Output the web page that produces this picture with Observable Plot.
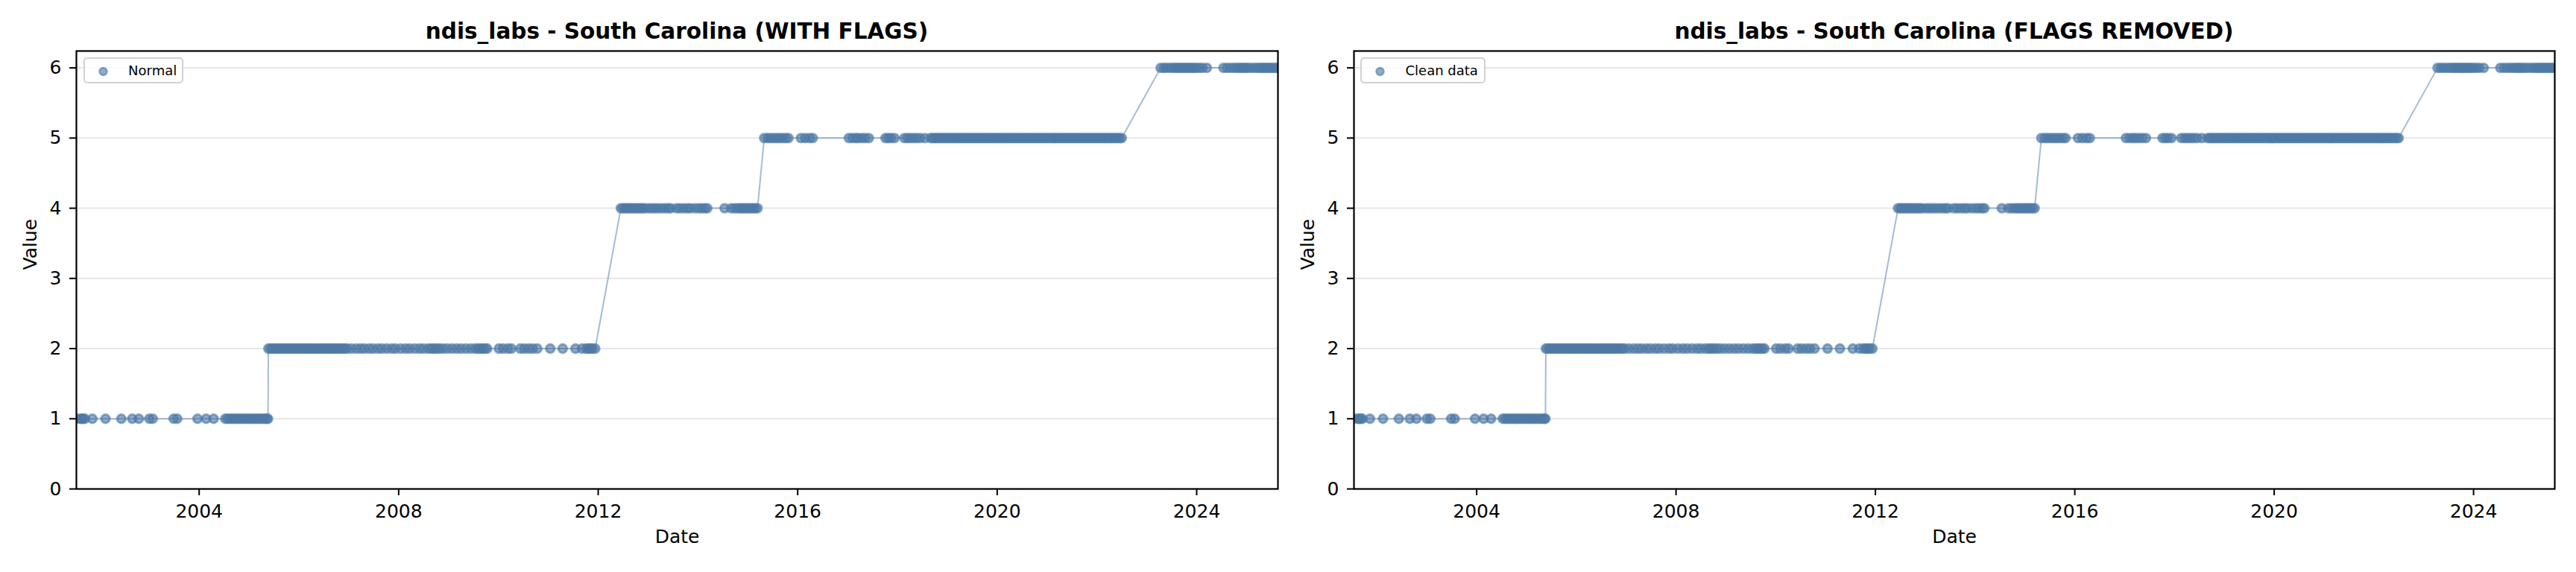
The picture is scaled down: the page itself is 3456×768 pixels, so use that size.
<!DOCTYPE html>
<html>
<head>
<meta charset="utf-8">
<script src="https://cdn.jsdelivr.net/npm/d3@7"></script>
<script src="https://cdn.jsdelivr.net/npm/@observablehq/plot@0.6"></script>
<style>
  html, body { margin: 0; padding: 0; background: #ffffff; }
  body { font-family: "DejaVu Sans", sans-serif; }
  #wrap { position: relative; width: 3456px; height: 768px; display: flex; }
  .panel { position: relative; width: 1728px; height: 768px; }
  .title { position: relative; height: 56px; box-sizing: border-box; padding-top: 27px; }
  .title span { position: absolute; transform: translateX(-50%); white-space: nowrap;
    font-size: 29.5px; line-height: 30px; font-weight: bold; color: #000; top: 27px; }
  .legend { position: absolute; box-sizing: border-box; border: 2px solid #d2d2d2; border-radius: 5px;
    background: rgba(255,255,255,0.8); height: 35px; top: 77px; }
  .legend svg { position: absolute; left: 0; top: 0; }
  .legend span { position: absolute; top: 7px; font-size: 18px; line-height: 18px; color: #000; white-space: nowrap; }
  svg { display: block; }
</style>
</head>
<body>
<div id="wrap">
  <div class="panel" id="p1">
    <div class="title"><span id="t1"></span></div>
    <div id="c1"></div>
    <div class="legend" id="l1"></div>
  </div>
  <div class="panel" id="p2">
    <div class="title"><span id="t2"></span></div>
    <div id="c2"></div>
    <div class="legend" id="l2"></div>
  </div>
</div>
<script>
// ---- Text ----
const titles = ["ndis_labs - South Carolina (WITH FLAGS)", "ndis_labs - South Carolina (FLAGS REMOVED)"];
const legendLabels = ["Normal", "Clean data"];
const xLabel = "Date";
const yLabel = "Value";

// ---- Tick values ----
const yTicks = [0, 1, 2, 3, 4, 5, 6];
const xTickYears = [2004, 2008, 2012, 2016, 2020, 2024];

// ---- Data: step levels and the dates observed at each level ----
const levels = [1, 2, 4, 5, 6];

const level1Dates = [
  "2001-07-16","2001-08-14","2001-08-24","2001-09-04","2001-09-16","2001-11-10",
  "2002-02-14","2002-06-10","2002-08-29","2002-10-16","2003-01-01","2003-01-26",
  "2003-06-28","2003-07-24","2003-12-20","2004-02-21","2004-04-16",
  "2004-07-10","2004-07-27","2004-08-13","2004-08-30","2004-09-16","2004-10-03","2004-10-20",
  "2004-11-06","2004-11-23","2004-12-10","2004-12-27","2005-01-13","2005-01-30","2005-02-16",
  "2005-03-05","2005-03-22","2005-04-08","2005-04-25","2005-05-12","2005-05-19"
];

const level2Dates = [
  "2005-05-22","2005-06-07","2005-06-23","2005-07-09","2005-07-25","2005-08-10","2005-08-26",
  "2005-09-11","2005-09-27","2005-10-13","2005-10-29","2005-11-14","2005-11-30","2005-12-16",
  "2006-01-01","2006-01-17","2006-02-02","2006-02-18","2006-03-06","2006-03-22","2006-04-07",
  "2006-04-23","2006-05-09","2006-05-25","2006-06-10","2006-06-26","2006-07-12","2006-07-28",
  "2006-08-13","2006-08-29","2006-09-14","2006-09-30","2006-10-16","2006-11-01","2006-11-17",
  "2006-12-03","2006-12-19",
  "2007-01-20","2007-02-25","2007-03-28","2007-04-25","2007-05-30","2007-06-28","2007-08-02",
  "2007-08-30","2007-10-05","2007-11-10","2007-12-08","2008-01-15","2008-02-20","2008-03-22",
  "2008-04-28","2008-06-02","2008-07-01","2008-08-05","2008-08-28","2008-09-15","2008-10-05",
  "2008-10-25","2008-11-20","2008-12-22","2009-01-25","2009-03-01","2009-04-02","2009-05-08",
  "2009-06-12","2009-07-15","2009-08-05","2009-08-22","2009-09-08","2009-09-25","2009-10-10",
  "2010-01-04","2010-02-03","2010-03-11","2010-04-05","2010-06-10","2010-07-09","2010-08-11",
  "2010-09-09","2010-10-12","2011-01-15","2011-04-16","2011-07-19","2011-09-05",
  "2011-10-05","2011-10-20","2011-11-05","2011-11-20","2011-12-10"
];

const level4Dates = [
  "2012-06-15","2012-07-01","2012-07-17","2012-08-02","2012-08-18","2012-09-03","2012-09-19",
  "2012-10-05","2012-10-21","2012-11-06","2012-11-22","2012-12-08",
  "2013-01-05","2013-01-28","2013-02-20","2013-03-15","2013-04-10","2013-05-05","2013-05-28","2013-06-15",
  "2013-07-28","2013-08-22","2013-09-18","2013-10-14","2013-11-05",
  "2013-12-08","2014-01-05","2014-01-28","2014-02-20","2014-03-10",
  "2014-07-15",
  "2014-09-01","2014-09-25","2014-10-18",
  "2014-11-05","2014-11-21","2014-12-07","2014-12-23","2015-01-08","2015-01-24","2015-02-09",
  "2015-02-25","2015-03-13"
];

const level5Dates = [
  "2015-05-01","2015-05-25","2015-06-15","2015-07-08","2015-07-30","2015-08-20","2015-09-12",
  "2015-10-05","2015-10-25",
  "2016-01-25","2016-02-25","2016-03-28","2016-04-20",
  "2017-01-10","2017-02-05","2017-03-01","2017-03-20","2017-04-15","2017-05-10","2017-06-05",
  "2017-10-05","2017-10-25","2017-11-15","2017-12-10",
  "2018-02-20","2018-03-15","2018-04-05","2018-04-28","2018-05-20","2018-06-15","2018-07-20",
  "2018-09-01","2018-09-16","2018-10-01","2018-10-16","2018-11-01","2018-11-16","2018-12-01","2018-12-16",
  "2019-01-01","2019-01-16","2019-02-01","2019-02-16","2019-03-01","2019-03-16","2019-04-01","2019-04-16",
  "2019-05-01","2019-05-16","2019-06-01","2019-06-16","2019-07-01","2019-07-16","2019-08-01","2019-08-16",
  "2019-09-01","2019-09-16","2019-10-01","2019-10-16","2019-11-01","2019-11-16","2019-12-01","2019-12-16",
  "2020-01-01","2020-01-16","2020-02-01","2020-02-16","2020-03-01","2020-03-16","2020-04-01","2020-04-16",
  "2020-05-01","2020-05-16","2020-06-01","2020-06-16","2020-07-01","2020-07-16","2020-08-01","2020-08-16",
  "2020-09-01","2020-09-16","2020-10-01","2020-10-16","2020-11-01","2020-11-16","2020-12-01","2020-12-16",
  "2021-01-01","2021-01-16","2021-02-01","2021-02-16","2021-03-01","2021-03-16","2021-04-01","2021-04-16",
  "2021-05-01","2021-05-16","2021-06-01","2021-06-16","2021-07-01","2021-07-16","2021-08-01","2021-08-16",
  "2021-09-01","2021-09-16","2021-10-01","2021-10-16","2021-11-01","2021-11-16","2021-12-01","2021-12-16",
  "2022-01-01","2022-01-16","2022-02-01","2022-02-16","2022-03-01","2022-03-16","2022-04-01","2022-04-16",
  "2022-05-01","2022-05-16","2022-06-01","2022-06-16","2022-07-01"
];

const level6Dates = [
  "2023-04-12","2023-05-05","2023-05-25","2023-06-18","2023-07-10","2023-07-28","2023-08-15",
  "2023-09-01","2023-09-18","2023-10-05","2023-10-22","2023-11-08","2023-11-25","2023-12-12",
  "2023-12-30","2024-01-20","2024-02-12","2024-03-15",
  "2024-07-15","2024-08-10","2024-09-05","2024-09-28","2024-10-20","2024-11-08","2024-11-25",
  "2024-12-12","2024-12-30","2025-01-18","2025-02-10","2025-03-05","2025-03-25","2025-04-12",
  "2025-04-28","2025-05-12","2025-05-28","2025-06-12","2025-06-28","2025-07-15","2025-08-01","2025-08-18"
];

// ---- Build table ----
const datesByLevel = [level1Dates, level2Dates, level4Dates, level5Dates, level6Dates];
const rows = levels.flatMap((v, i) => datesByLevel[i].map(d => ({date: new Date(d + "T00:00:00Z"), value: v})))
  .sort((a, b) => a.date - b.date);
const cleanRows = rows.slice();

const color = "#4e79a7";
const xDomain = d3.extent(rows, d => d.date);
const xTicks = xTickYears.map(y => new Date(Date.UTC(y, 0, 1)));

function makeChart(data, marginLeft, marginRight) {
  return Plot.plot({
    width: 1728,
    height: 712,
    marginLeft,
    marginRight,
    marginTop: 12,
    marginBottom: 112,
    style: {fontFamily: "DejaVu Sans, sans-serif", fontSize: "25px", color: "#000", background: "#fff", overflow: "visible"},
    x: {type: "utc", domain: xDomain},
    y: {domain: [0, 6.24]},
    marks: [
      Plot.gridY(yTicks, {stroke: "#b0b0b0", strokeOpacity: 0.3, strokeWidth: 2}),
      Plot.line(data, {x: "date", y: "value", stroke: color, strokeOpacity: 0.5, strokeWidth: 2, clip: "frame"}),
      Plot.dot(data, {x: "date", y: "value", r: 5.7, fill: color, fillOpacity: 0.62, stroke: color,
        strokeOpacity: 0.62, strokeWidth: 3, clip: "frame"}),
      Plot.frame({stroke: "#000", strokeWidth: 2.2}),
      Plot.axisY({ticks: yTicks, tickSize: 9, tickPadding: 11, strokeWidth: 2, fontSize: 25, label: null, tickFormat: d => String(d)}),
      Plot.axisX({ticks: xTicks, tickSize: 9, tickPadding: 12, strokeWidth: 2, fontSize: 25, label: null, tickFormat: d3.utcFormat("%Y")}),
      Plot.text([xLabel], {frameAnchor: "bottom", text: d => d, dy: 72, fontSize: 25}),
      Plot.text([yLabel], {frameAnchor: "left", text: d => d, dx: -62, rotate: -90, fontSize: 25})
    ]
  });
}

document.getElementById("c1").appendChild(makeChart(rows, 102, 14));
document.getElementById("c2").appendChild(makeChart(cleanRows, 88, 29));

// titles centred on the frames
const t1 = document.getElementById("t1"); t1.textContent = titles[0]; t1.style.left = "908px";
const t2 = document.getElementById("t2"); t2.textContent = titles[1]; t2.style.left = "893.5px";

function legend(el, left, width, label) {
  el.style.left = left + "px";
  el.style.width = width + "px";
  el.innerHTML = `<svg width="${width}" height="35"><circle cx="24.5" cy="17" r="5" fill="${color}" fill-opacity="0.62" stroke="${color}" stroke-opacity="0.62" stroke-width="2.4"></circle></svg><span style="left:58.5px">${label}</span>`;
}
legend(document.getElementById("l1"), 111.6, 134, legendLabels[0]);
legend(document.getElementById("l2"), 97, 168, legendLabels[1]);
</script>
</body>
</html>
